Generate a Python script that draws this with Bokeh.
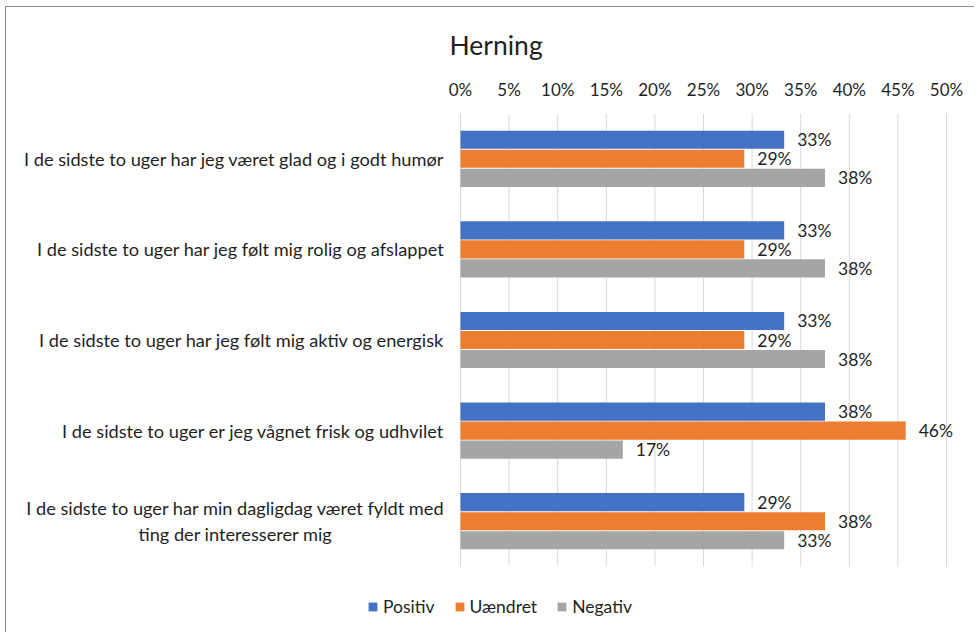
from bokeh.plotting import figure
from bokeh.models import (Range1d, FixedTicker, NumeralTickFormatter,
                          Legend, LegendItem, ColumnDataSource)
from bokeh.embed import file_html
from bokeh.resources import INLINE
from bokeh.core.properties import value

title_text = "Herning"
categories = [
    "I de sidste to uger har jeg været glad og i godt humør",
    "I de sidste to uger har jeg følt mig rolig og afslappet",
    "I de sidste to uger har jeg følt mig aktiv og energisk",
    "I de sidste to uger er jeg vågnet frisk og udhvilet",
    "I de sidste to uger har min dagligdag været fyldt med\nting der interesserer mig",
]
positiv = [0.333, 0.333, 0.333, 0.375, 0.292]
uaendret = [0.292, 0.292, 0.292, 0.458, 0.375]
negativ = [0.375, 0.375, 0.375, 0.167, 0.333]
series_names = ["Positiv", "Uændret", "Negativ"]
series_colors = ["#4472C4", "#ED7D31", "#A5A5A5"]
x_ticks = [0.0, 0.05, 0.10, 0.15, 0.20, 0.25, 0.30, 0.35, 0.40, 0.45, 0.50]

FONT = "Lato"
TXT = "#1f1f1f"

# layout (pixels)
W, H = 969, 626
TOP = 106
FRAME_H = H - TOP
PX_PER_UNIT_X = 972.0          # 0..0.5 spans 486 px
ZERO_PX = 454                  # pixel of 0 % from frame left
CAT_PX = 90.6                  # pixels per category band
LABEL_GAP = 16
WRAPPED_HALF_WIDTH = 209       # half width of a wrapped (two-line) label block

n = len(categories)
cat_y = [n - 1 - i for i in range(n)]          # first category on top
y_top = n - 0.5
y_bottom = y_top - FRAME_H / CAT_PX
x_start = -ZERO_PX / PX_PER_UNIT_X
x_end = x_start + W / PX_PER_UNIT_X

p = figure(
    width=W, height=H,
    x_range=Range1d(x_start, x_end),
    y_range=Range1d(y_bottom, y_top),
    x_axis_location="above", y_axis_location=None,
    output_backend="svg", toolbar_location=None,
    min_border_left=0, min_border_right=0, min_border_top=TOP, min_border_bottom=0,
)
p.outline_line_color = None
p.background_fill_color = "white"
p.border_fill_color = "white"
p.xgrid.grid_line_color = None
p.ygrid.grid_line_color = None

p.title.text = title_text
p.title.align = "left"
p.title.offset = 443
p.title.text_font = FONT
p.title.text_font_size = "26.5px"
p.title.text_font_style = "normal"
p.title.text_color = TXT
p.title.standoff = 30

xa = p.xaxis[0]
xa.ticker = FixedTicker(ticks=x_ticks)
xa.formatter = NumeralTickFormatter(format="0%")
xa.axis_line_color = None
xa.major_tick_line_color = None
xa.minor_tick_line_color = None
xa.major_label_text_font = FONT
xa.major_label_text_font_size = "17px"
xa.major_label_text_color = TXT
xa.major_label_standoff = 8

# vertical grid lines over the category area only
p.segment(x0=x_ticks, x1=x_ticks, y0=[-0.5] * len(x_ticks), y1=[y_top] * len(x_ticks),
          line_color="#D9D9D9", line_width=1)

# category labels (wrapped labels are centred like the original)
label_src = ColumnDataSource(dict(
    x=[0] * n, y=cat_y, text=categories,
    align=["center" if "\n" in c else "right" for c in categories],
    xoff=[-(LABEL_GAP + WRAPPED_HALF_WIDTH) if "\n" in c else -LABEL_GAP for c in categories],
))
p.text(x="x", y="y", text="text", source=label_src, x_offset="xoff",
       text_align="align", text_baseline="middle",
       text_font=value(FONT), text_font_size="18.2px", text_color=TXT)

offsets = [0.21, 0.0, -0.21]
series_vals = [positiv, uaendret, negativ]
items = []
for name, color, vals, off in zip(series_names, series_colors, series_vals, offsets):
    src = ColumnDataSource(dict(y=[c + off for c in cat_y], val=vals,
                                lbl=["{:.0f}%".format(v * 100) for v in vals]))
    r = p.hbar(y="y", right="val", left=0, height=0.2, source=src,
               fill_color=color, line_color=None)
    p.text(x="val", y="y", text="lbl", source=src,
           x_offset=13, text_baseline="middle", text_align="left",
           text_font=value(FONT), text_font_size="17.5px", text_color=TXT)
    items.append(LegendItem(label=name, renderers=[r]))

legend = Legend(items=items, orientation="horizontal", location=(361, 16),
                border_line_color=None, background_fill_alpha=0,
                label_text_font=FONT, label_text_font_size="17.5px",
                label_text_color=TXT, glyph_width=11, glyph_height=11,
                label_standoff=5, spacing=19, padding=0, margin=0)
p.add_layout(legend, "center")

p.styles = {"border-top": "1px solid #8c8c8c", "border-left": "1px solid #8c8c8c",
            "margin-left": "5px", "margin-top": "6px"}

open("out.html", "w").write(file_html(p, INLINE))
